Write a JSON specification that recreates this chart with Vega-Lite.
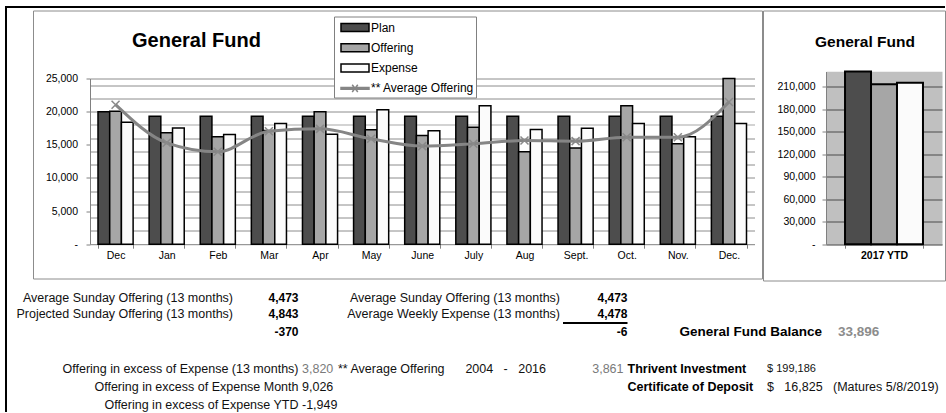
{
  "$schema": "https://vega.github.io/schema/vega-lite/v6.json",
  "padding": {"left": 5, "top": 6, "right": 0, "bottom": 0},
  "autosize": {"type": "pad"},
  "bounds": "flush",
  "spacing": 0,
  "config": {
    "view": {"stroke": null},
    "font": "Liberation Sans",
    "axis": {"labelFont": "Liberation Sans", "labelColor": "#000000", "labelFontSize": 10.5, "domainColor": "#808080", "tickColor": "#808080", "tickSize": 4, "title": null, "labelOverlap": false},
    "legend": {"labelFont": "Liberation Sans"},
    "title": {"font": "Liberation Sans"},
    "text": {"font": "Liberation Sans"}
  },
  "datasets": {
    "bars": [
      {"month": "Dec", "series": "Plan", "value": 20000}, {"month": "Dec", "series": "Offering", "value": 20050}, {"month": "Dec", "series": "Expense", "value": 18400},
      {"month": "Jan", "series": "Plan", "value": 19300}, {"month": "Jan", "series": "Offering", "value": 16800}, {"month": "Jan", "series": "Expense", "value": 17550},
      {"month": "Feb", "series": "Plan", "value": 19300}, {"month": "Feb", "series": "Offering", "value": 16200}, {"month": "Feb", "series": "Expense", "value": 16550},
      {"month": "Mar", "series": "Plan", "value": 19300}, {"month": "Mar", "series": "Offering", "value": 17150}, {"month": "Mar", "series": "Expense", "value": 18200},
      {"month": "Apr", "series": "Plan", "value": 19300}, {"month": "Apr", "series": "Offering", "value": 20000}, {"month": "Apr", "series": "Expense", "value": 16600},
      {"month": "May", "series": "Plan", "value": 19300}, {"month": "May", "series": "Offering", "value": 17250}, {"month": "May", "series": "Expense", "value": 20300},
      {"month": "June", "series": "Plan", "value": 19300}, {"month": "June", "series": "Offering", "value": 16400}, {"month": "June", "series": "Expense", "value": 17100},
      {"month": "July", "series": "Plan", "value": 19300}, {"month": "July", "series": "Offering", "value": 17650}, {"month": "July", "series": "Expense", "value": 20900},
      {"month": "Aug", "series": "Plan", "value": 19300}, {"month": "Aug", "series": "Offering", "value": 13950}, {"month": "Aug", "series": "Expense", "value": 17300},
      {"month": "Sept.", "series": "Plan", "value": 19300}, {"month": "Sept.", "series": "Offering", "value": 14500}, {"month": "Sept.", "series": "Expense", "value": 17500},
      {"month": "Oct.", "series": "Plan", "value": 19300}, {"month": "Oct.", "series": "Offering", "value": 20900}, {"month": "Oct.", "series": "Expense", "value": 18200},
      {"month": "Nov.", "series": "Plan", "value": 19300}, {"month": "Nov.", "series": "Offering", "value": 15150}, {"month": "Nov.", "series": "Expense", "value": 16200},
      {"month": "Dec.", "series": "Plan", "value": 19300}, {"month": "Dec.", "series": "Offering", "value": 27200}, {"month": "Dec.", "series": "Expense", "value": 18200}
    ],
    "avg": [
      {"month": "Dec", "avg": 21050}, {"month": "Jan", "avg": 15300}, {"month": "Feb", "avg": 13950}, {"month": "Mar", "avg": 17050},
      {"month": "Apr", "avg": 17400}, {"month": "May", "avg": 15900}, {"month": "June", "avg": 14800}, {"month": "July", "avg": 15150},
      {"month": "Aug", "avg": 15650}, {"month": "Sept.", "avg": 15550}, {"month": "Oct.", "avg": 16150}, {"month": "Nov.", "avg": 16150},
      {"month": "Dec.", "avg": 21450}
    ],
    "ytd": [
      {"period": "2017 YTD", "series": "Plan", "value": 231600},
      {"period": "2017 YTD", "series": "Offering", "value": 213150},
      {"period": "2017 YTD", "series": "Expense", "value": 215100}
    ],
    "labelsR": [
      {"text": "Average Sunday Offering (13 months)", "row": 1, "col": 1},
      {"text": "Projected Sunday Offering (13 months)", "row": 2, "col": 1},
      {"text": "Offering in excess of Expense (13 months)", "row": 5, "col": 2},
      {"text": "Offering in excess of Expense Month", "row": 6, "col": 2},
      {"text": "Offering in excess of Expense YTD", "row": 7, "col": 2},
      {"text": "Average Sunday Offering (13 months)", "row": 1, "col": 5},
      {"text": "Average Weekly Expense (13 months)", "row": 2, "col": 5}
    ],
    "boldR": [
      {"text": "4,473", "row": 1, "col": 2}, {"text": "4,843", "row": 2, "col": 2}, {"text": "-370", "row": 3, "col": 2},
      {"text": "4,473", "row": 1, "col": 7}, {"text": "4,478", "row": 2, "col": 7}, {"text": "-6", "row": 3, "col": 7}
    ],
    "grayL": [{"text": "3,820", "row": 5, "col": 3}],
    "grayR": [{"text": "3,861", "row": 5, "col": 7}],
    "plainL": [
      {"text": "9,026", "row": 6, "col": 3}, {"text": "-1,949", "row": 7, "col": 3},
      {"text": "** Average Offering\u00a0\u00a0\u00a0\u00a0\u00a0\u00a02004\u00a0\u00a0\u00a0-\u00a0\u00a0\u00a02016", "row": 5, "col": 4},
      {"text": "$\u00a0\u00a0\u00a016,825", "row": 6, "col": 8}, {"text": "(Matures 5/8/2019)", "row": 6, "col": 10}
    ],
    "smallL": [{"text": "$ 199,186", "row": 5, "col": 8}],
    "boldL": [{"text": "Thrivent Investment", "row": 5, "col": 7}, {"text": "Certificate of Deposit", "row": 6, "col": 7}],
    "balance": [{"text": "General Fund Balance", "row": 3, "col": 9}],
    "balanceValue": [{"text": "33,896", "row": 3, "col": 11}],
    "underline": [{"row": 2, "from": 6, "to": 7}]
  },
  "hconcat": [
    {
      "width": 2, "height": 406,
      "view": {"fill": "#000000", "stroke": null},
      "data": {"values": []},
      "mark": "point",
      "encoding": {}
    },
    {
      "vconcat": [
        {
          "width": 938, "height": 2,
          "view": {"fill": "#000000", "stroke": null},
          "data": {"values": []},
          "mark": "point",
          "encoding": {}
        },
        {
          "hconcat": [
            {
              "width": 25, "height": 10,
              "data": {"values": []},
              "mark": "point",
              "encoding": {}
            },
            {
              "width": 729, "height": 268,
              "view": {"stroke": "#8c8c8c", "strokeWidth": 1},
              "title": {"text": "General Fund", "anchor": "start", "frame": "group", "orient": "top", "offset": 0, "dx": 99, "dy": 56.4, "baseline": "alphabetic", "fontSize": 20, "fontWeight": "bold", "color": "#000000"},
              "layer": [
                {
                  "data": {"name": "bars"},
                  "mark": {"type": "bar", "stroke": "#000000", "strokeWidth": 1.5},
                  "encoding": {
                    "x": {"field": "month", "type": "nominal", "sort": null,
                      "scale": {"domain": ["Dec", "Jan", "Feb", "Mar", "Apr", "May", "June", "July", "Aug", "Sept.", "Oct.", "Nov.", "Dec."], "range": [57, 721.5], "paddingInner": 0.313, "paddingOuter": 0.1565},
                      "axis": {"orient": "bottom", "offset": -34.3, "tickBand": "extent", "labelPadding": 2, "labelAngle": 0, "grid": false}},
                    "xOffset": {"field": "series", "type": "nominal", "sort": ["Plan", "Offering", "Expense"], "scale": {"paddingInner": 0, "paddingOuter": 0}},
                    "y": {"field": "value", "type": "quantitative",
                      "scale": {"domain": [0, 25000], "range": [233.7, 68], "clamp": true, "nice": false, "zero": false},
                      "axis": {"orient": "left", "offset": -57, "values": [0, 5000, 10000, 15000, 20000, 25000], "grid": false, "labelPadding": 8.5,
                        "labelExpr": "datum.value === 0 ? '-' : format(datum.value, ',')",
                        "encode": {"labels": {"update": {"dx": [{"test": "datum.value === 0", "value": -6}, {"value": 0}]}}}}},
                    "color": {"field": "series", "type": "nominal",
                      "scale": {"domain": ["Plan", "Offering", "Expense", "** Average Offering"], "range": ["#4d4d4d", "#a6a6a6", "#fbfbfb", "#858585"]},
                      "legend": {"orient": "none", "legendX": 301, "legendY": 6, "title": null, "direction": "vertical",
                        "strokeColor": "#808080", "fillColor": "#ffffff", "padding": 2, "rowPadding": 4.3,
                        "labelFontSize": 12, "labelColor": "#000000", "labelOffset": 17,
                        "symbolSize": 256, "symbolType": "M-0.5,-0.5H3V0.5H-0.5Z", "symbolStrokeWidth": 1.5, "symbolStrokeColor": "#000000",
                        "encode": {"symbols": {"update": {
                          "shape": [{"test": "datum.value === '** Average Offering'", "value": "M-0.5,-0.1H3V0.1H-0.5ZM0.9,-0.45L1.6,0.45M0.9,0.45L1.6,-0.45"}, {"value": "M-0.5,-0.5H3V0.5H-0.5Z"}],
                          "fill": [{"test": "datum.value === 'Plan'", "value": "#4d4d4d"}, {"test": "datum.value === 'Offering'", "value": "#a6a6a6"}, {"test": "datum.value === 'Expense'", "value": "#fbfbfb"}, {"value": "#858585"}],
                          "stroke": [{"test": "datum.value === '** Average Offering'", "value": "#858585"}, {"value": "#000000"}],
                          "opacity": {"value": 1}
                        }}}}
                    }
                  }
                },
                {
                  "data": {"name": "avg"},
                  "mark": {"type": "line", "interpolate": "monotone", "stroke": "#858585", "strokeWidth": 3},
                  "encoding": {
                    "x": {"field": "month", "type": "nominal", "sort": null},
                    "y": {"field": "avg", "type": "quantitative",
                      "axis": {"orient": "left", "grid": true, "gridColor": "#8c8c8c", "gridWidth": 1, "domain": false, "ticks": false, "labels": false,
                        "values": [2000, 4000, 6000, 8000, 10000, 12000, 14000, 16000, 20000, 22000, 24000, 25000]}}
                  }
                },
                {
                  "data": {"name": "avg"},
                  "mark": {"type": "point", "shape": "M-1,-1L1,1M-1,1L1,-1", "size": 64, "filled": false, "stroke": "#8a8a8a", "strokeWidth": 1.5, "opacity": 1},
                  "encoding": {
                    "x": {"field": "month", "type": "nominal", "sort": null},
                    "y": {"field": "avg", "type": "quantitative",
                      "axis": {"orient": "left", "grid": true, "gridColor": "#c4c4c4", "gridWidth": 1.5, "domain": false, "ticks": false, "labels": false, "values": [18000]}}
                  }
                }
              ],
              "resolve": {"axis": {"y": "independent"}}
            },
            {
              "width": 182, "height": 270,
              "view": {"stroke": "#8c8c8c", "strokeWidth": 1},
              "title": {"text": "General Fund", "anchor": "start", "frame": "group", "orient": "top", "offset": 0, "dx": 52, "dy": 52, "baseline": "alphabetic", "fontSize": 15.5, "fontWeight": "bold", "color": "#000000"},
              "data": {"name": "ytd"},
              "layer": [
                {
                  "mark": {"type": "bar", "opacity": 0},
                  "encoding": {
                    "x": {"field": "period", "type": "nominal",
                      "scale": {"range": [63, 179], "paddingInner": 0.328, "paddingOuter": 0.164},
                      "axis": {"orient": "bottom", "offset": -36.3, "tickBand": "extent", "labelPadding": 2, "labelAngle": 0, "labelFontWeight": "bold", "grid": false}},
                    "y": {"field": "value", "type": "quantitative",
                      "scale": {"domain": [0, 230000], "range": [233.7, 61], "clamp": true, "nice": false, "zero": false},
                      "axis": {"orient": "left", "grid": true, "values": [115000], "gridWidth": 172.7, "gridColor": "#c0c0c0", "gridCap": "butt", "domain": false, "ticks": false, "labels": false}}
                  }
                },
                {
                  "mark": {"type": "bar", "stroke": "#000000", "strokeWidth": 2},
                  "encoding": {
                    "x": {"field": "period", "type": "nominal"},
                    "xOffset": {"field": "series", "type": "nominal", "sort": ["Plan", "Offering", "Expense"], "scale": {"paddingInner": 0, "paddingOuter": 0}},
                    "y": {"field": "value", "type": "quantitative",
                      "axis": {"orient": "left", "offset": -63, "values": [0, 30000, 60000, 90000, 120000, 150000, 180000, 210000], "grid": true, "gridColor": "#4a4a4a", "labelPadding": 7,
                        "labelExpr": "datum.value === 0 ? '-' : format(datum.value, ',')",
                        "encode": {"labels": {"update": {"dx": [{"test": "datum.value === 0", "value": 7}, {"value": 0}]}}}}},
                    "color": {"field": "series", "type": "nominal",
                      "scale": {"domain": ["Plan", "Offering", "Expense"], "range": ["#4d4d4d", "#a6a6a6", "#fbfbfb"]},
                      "legend": null}
                  }
                }
              ],
              "resolve": {"axis": {"y": "independent"}}
            }
          ],
          "spacing": 1,
          "bounds": "flush",
          "resolve": {"scale": {"color": "independent", "xOffset": "independent"}, "legend": {"color": "independent"}}
        },
        {
          "width": 938, "height": 130,
          "view": {"stroke": null},
          "layer": [
            {
              "data": {"name": "labelsR"},
              "mark": {"type": "text", "align": "right", "baseline": "middle", "fontSize": 12.5, "color": "#111111"},
              "encoding": {
                "x": {"field": "col", "type": "quantitative", "scale": {"domain": [1, 2, 3, 4, 5, 6, 7, 8, 9, 10, 11], "range": [226, 291.5, 295, 331, 553, 556, 620.5, 760, 815, 826, 831], "nice": false, "zero": false}, "axis": null},
                "y": {"field": "row", "type": "quantitative", "scale": {"domain": [1, 2, 3, 5, 6, 7], "range": [15, 31, 48.5, 85.5, 104, 122], "nice": false, "zero": false}, "axis": null},
                "text": {"field": "text"}
              }
            },
            {
              "data": {"name": "boldR"},
              "mark": {"type": "text", "align": "right", "baseline": "middle", "fontSize": 12, "fontWeight": "bold", "color": "#000000"},
              "encoding": {
                "x": {"field": "col", "type": "quantitative", "axis": null},
                "y": {"field": "row", "type": "quantitative", "axis": null},
                "text": {"field": "text"}
              }
            },
            {
              "data": {"name": "grayL"},
              "mark": {"type": "text", "align": "left", "baseline": "middle", "fontSize": 12.5, "color": "#7a7a7a"},
              "encoding": {
                "x": {"field": "col", "type": "quantitative", "axis": null},
                "y": {"field": "row", "type": "quantitative", "axis": null},
                "text": {"field": "text"}
              }
            },
            {
              "data": {"name": "grayR"},
              "mark": {"type": "text", "align": "right", "baseline": "middle", "fontSize": 12.5, "color": "#7a7a7a", "dx": -4},
              "encoding": {
                "x": {"field": "col", "type": "quantitative", "axis": null},
                "y": {"field": "row", "type": "quantitative", "axis": null},
                "text": {"field": "text"}
              }
            },
            {
              "data": {"name": "plainL"},
              "mark": {"type": "text", "align": "left", "baseline": "middle", "fontSize": 12.5, "color": "#111111"},
              "encoding": {
                "x": {"field": "col", "type": "quantitative", "axis": null},
                "y": {"field": "row", "type": "quantitative", "axis": null},
                "text": {"field": "text"}
              }
            },
            {
              "data": {"name": "smallL"},
              "mark": {"type": "text", "align": "left", "baseline": "middle", "fontSize": 11, "color": "#111111"},
              "encoding": {
                "x": {"field": "col", "type": "quantitative", "axis": null},
                "y": {"field": "row", "type": "quantitative", "axis": null},
                "text": {"field": "text"}
              }
            },
            {
              "data": {"name": "boldL"},
              "mark": {"type": "text", "align": "left", "baseline": "middle", "fontSize": 12.5, "fontWeight": "bold", "color": "#000000"},
              "encoding": {
                "x": {"field": "col", "type": "quantitative", "axis": null},
                "y": {"field": "row", "type": "quantitative", "axis": null},
                "text": {"field": "text"}
              }
            },
            {
              "data": {"name": "balance"},
              "mark": {"type": "text", "align": "right", "baseline": "middle", "fontSize": 13.5, "fontWeight": "bold", "color": "#000000"},
              "encoding": {
                "x": {"field": "col", "type": "quantitative", "axis": null},
                "y": {"field": "row", "type": "quantitative", "axis": null},
                "text": {"field": "text"}
              }
            },
            {
              "data": {"name": "balanceValue"},
              "mark": {"type": "text", "align": "left", "baseline": "middle", "fontSize": 13.5, "fontWeight": "bold", "color": "#8c8c8c"},
              "encoding": {
                "x": {"field": "col", "type": "quantitative", "axis": null},
                "y": {"field": "row", "type": "quantitative", "axis": null},
                "text": {"field": "text"}
              }
            },
            {
              "data": {"name": "underline"},
              "mark": {"type": "rule", "color": "#000000", "strokeWidth": 2, "yOffset": 9},
              "encoding": {
                "x": {"field": "from", "type": "quantitative", "axis": null},
                "x2": {"field": "to"},
                "y": {"field": "row", "type": "quantitative", "axis": null}
              }
            }
          ]
        }
      ],
      "spacing": 1.5,
      "bounds": "full"
    }
  ]
}
